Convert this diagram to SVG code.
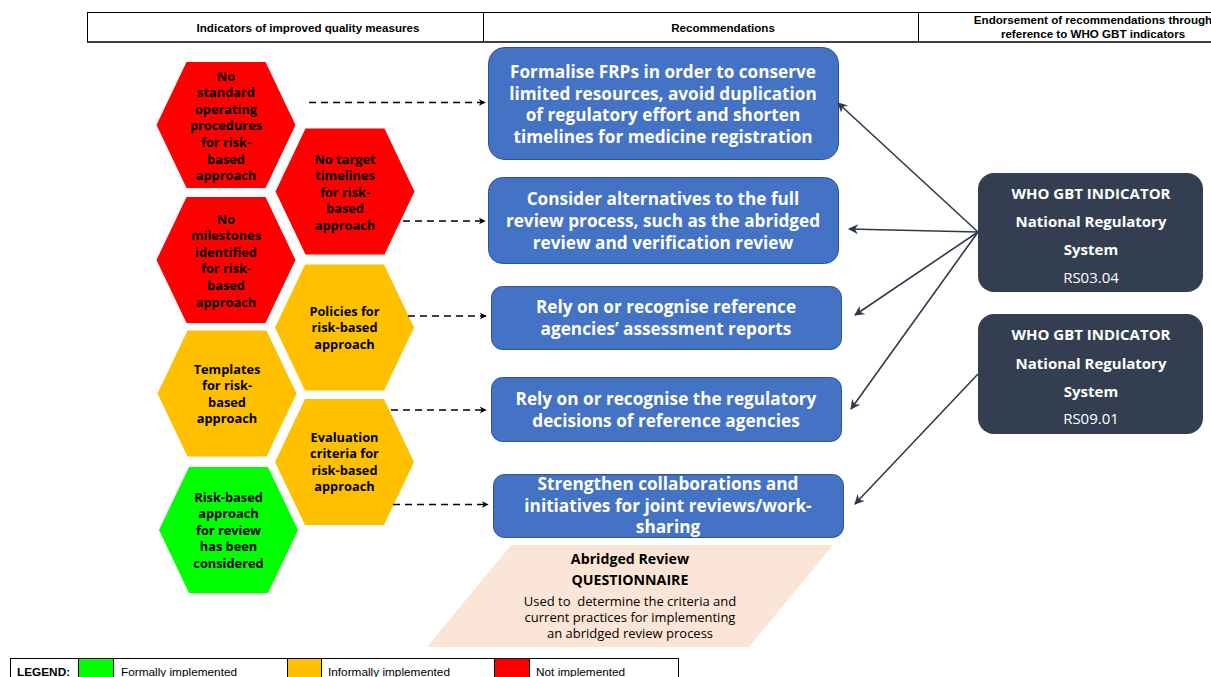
<svg xmlns="http://www.w3.org/2000/svg" xmlns:xlink="http://www.w3.org/1999/xlink" width="1211" height="677" viewBox="0 0 1211 677">
<style>
.hdr{font-family:"Liberation Sans",Arial,sans-serif;font-weight:bold;font-size:11.6px;fill:#000;text-anchor:middle}
.hx{font-family:"Open Sans","Noto Sans",sans-serif;font-weight:bold;font-size:12.8px;fill:#000;text-anchor:middle}
.red{fill:#FF0000}
.org{fill:#FFC000}
.grn{fill:#00FF00}
.blue{fill:#4472C4;stroke:#2F528F;stroke-width:1}
.bt{font-family:"Open Sans","Noto Sans",sans-serif;font-weight:bold;font-size:17.2px;fill:#fff;text-anchor:middle}
.dark{fill:#333F50}
.dt{font-family:"Open Sans","Noto Sans",sans-serif;font-size:15px;fill:#fff;text-anchor:middle}
.dt .b{font-weight:bold}
.pt{font-family:"Open Sans","Noto Sans",sans-serif;font-size:13px;fill:#000;text-anchor:middle}
.pb{font-family:"Open Sans","Noto Sans",sans-serif;font-size:14.2px;font-weight:bold;fill:#000;text-anchor:middle}
.dash{stroke:#000;stroke-width:1.6;stroke-dasharray:7 5;fill:none}
.sol{stroke:#2E3A4B;stroke-width:1.6;fill:none}
.lg{font-family:"Liberation Sans",Arial,sans-serif;font-size:11.8px;fill:#000}
</style>
<defs>
<polygon id="hex" points="-69.5,0 -39.5,-63 39.5,-63 69.5,0 39.5,63 -39.5,63"/>
<marker id="ab" viewBox="0 0 10 10" refX="9" refY="5" markerWidth="7" markerHeight="7" markerUnits="userSpaceOnUse" orient="auto">
<path d="M0,0 L10,5 L0,10 L3,5 Z" fill="#000"/>
</marker>
<marker id="ad" viewBox="0 0 10 10" refX="9" refY="5" markerWidth="10" markerHeight="10" markerUnits="userSpaceOnUse" orient="auto">
<path d="M0,0 L10,5 L0,10 L3,5 Z" fill="#2E3A4B"/>
</marker>
</defs>
<rect width="1211" height="677" fill="#fff"/>

<g id="header">
<line x1="87" y1="12.5" x2="1211" y2="12.5" stroke="#000" stroke-width="1"/>
<line x1="87" y1="42" x2="1211" y2="42" stroke="#000" stroke-width="1.5"/>
<line x1="87.5" y1="12" x2="87.5" y2="42" stroke="#000" stroke-width="1"/>
<line x1="483.5" y1="12" x2="483.5" y2="42" stroke="#000" stroke-width="1"/>
<line x1="918.5" y1="12" x2="918.5" y2="42" stroke="#000" stroke-width="1"/>
<text class="hdr" x="308" y="32">Indicators of improved quality measures</text>
<text class="hdr" x="723" y="32">Recommendations</text>
<text class="hdr" x="1093" y="24">Endorsement of recommendations through</text>
<text class="hdr" x="1093" y="38">reference to WHO GBT indicators</text>
</g>

<g id="hex1">
<use xlink:href="#hex" x="226" y="125" class="red"/>
<text class="hx" x="226" y="80.5"><tspan x="226">No</tspan><tspan x="226" dy="16.6">standard</tspan><tspan x="226" dy="16.6">operating</tspan><tspan x="226" dy="16.6">procedures</tspan><tspan x="226" dy="16.6">for risk-</tspan><tspan x="226" dy="16.6">based</tspan><tspan x="226" dy="16.6">approach</tspan></text>
</g>
<g id="hex2">
<use xlink:href="#hex" x="345" y="191.5" class="red"/>
<text class="hx" x="345" y="163.5"><tspan x="345">No target</tspan><tspan x="345" dy="16.6">timelines</tspan><tspan x="345" dy="16.6">for risk-</tspan><tspan x="345" dy="16.6">based</tspan><tspan x="345" dy="16.6">approach</tspan></text>
</g>
<g id="hex3">
<use xlink:href="#hex" x="226" y="260" class="red"/>
<text class="hx" x="226" y="223.5"><tspan x="226">No</tspan><tspan x="226" dy="16.6">milestones</tspan><tspan x="226" dy="16.6">identified</tspan><tspan x="226" dy="16.6">for risk-</tspan><tspan x="226" dy="16.6">based</tspan><tspan x="226" dy="16.6">approach</tspan></text>
</g>
<g id="hex4">
<use xlink:href="#hex" x="344.5" y="327.5" class="org"/>
<text class="hx" x="344.5" y="315.5"><tspan x="344.5">Policies for</tspan><tspan x="344.5" dy="16.6">risk-based</tspan><tspan x="344.5" dy="16.6">approach</tspan></text>
</g>
<g id="hex5">
<use xlink:href="#hex" x="227" y="393.5" class="org"/>
<text class="hx" x="227" y="373.5"><tspan x="227">Templates</tspan><tspan x="227" dy="16.6">for risk-</tspan><tspan x="227" dy="16.6">based</tspan><tspan x="227" dy="16.6">approach</tspan></text>
</g>
<g id="hex6">
<use xlink:href="#hex" x="344.5" y="462" class="org"/>
<text class="hx" x="344.5" y="441.5"><tspan x="344.5">Evaluation</tspan><tspan x="344.5" dy="16.6">criteria for</tspan><tspan x="344.5" dy="16.6">risk-based</tspan><tspan x="344.5" dy="16.6">approach</tspan></text>
</g>
<g id="hex7">
<use xlink:href="#hex" x="228.5" y="530" class="grn"/>
<text class="hx" x="228.5" y="501.5"><tspan x="228.5">Risk-based</tspan><tspan x="228.5" dy="16.6">approach</tspan><tspan x="228.5" dy="16.6">for review</tspan><tspan x="228.5" dy="16.6">has been</tspan><tspan x="228.5" dy="16.6">considered</tspan></text>
</g>

<g id="rec1">
<rect class="blue" x="488.5" y="47.5" width="350" height="112" rx="16"/>
<text class="bt" x="663" y="78"><tspan x="663">Formalise FRPs in order to conserve</tspan><tspan x="663" dy="21.7">limited resources, avoid duplication</tspan><tspan x="663" dy="21.7">of regulatory effort and shorten</tspan><tspan x="663" dy="21.7">timelines for medicine registration</tspan></text>
</g>
<g id="rec2">
<rect class="blue" x="488.5" y="177.5" width="350" height="86" rx="14"/>
<text class="bt" x="663" y="205"><tspan x="663">Consider alternatives to the full</tspan><tspan x="663" dy="22">review process, such as the abridged</tspan><tspan x="663" dy="22">review and verification review</tspan></text>
</g>
<g id="rec3">
<rect class="blue" x="491.5" y="286.5" width="350" height="63" rx="11"/>
<text class="bt" x="666" y="313"><tspan x="666">Rely on or recognise reference</tspan><tspan x="666" dy="22">agencies’ assessment reports</tspan></text>
</g>
<g id="rec4">
<rect class="blue" x="491.5" y="377.5" width="350" height="64" rx="11"/>
<text class="bt" x="666" y="405"><tspan x="666">Rely on or recognise the regulatory</tspan><tspan x="666" dy="22">decisions of reference agencies</tspan></text>
</g>
<g id="rec5">
<rect class="blue" x="493.5" y="474.5" width="350" height="63" rx="11"/>
<text class="bt" x="668" y="490"><tspan x="668">Strengthen collaborations and</tspan><tspan x="668" dy="21.7">initiatives for joint reviews/work-</tspan><tspan x="668" dy="21.7">sharing</tspan></text>
</g>

<g id="questionnaire">
<polygon points="511,545 833,545 749,647 427,647" fill="#FBE5D6"/>
<text class="pb" x="630" y="564">Abridged Review</text>
<text class="pb" x="630" y="585">QUESTIONNAIRE</text>
<text class="pt" x="630" y="605.5" xml:space="preserve">Used to  determine the criteria and</text>
<text class="pt" x="630" y="621.5">current practices for implementing</text>
<text class="pt" x="630" y="637.5">an abridged review process</text>
</g>

<g id="gbt1">
<rect class="dark" x="978" y="173" width="225" height="119" rx="16"/>
<text class="dt" x="1091" y="199"><tspan class="b" x="1091">WHO GBT INDICATOR</tspan><tspan class="b" x="1091" dy="28">National Regulatory</tspan><tspan class="b" x="1091" dy="28">System</tspan><tspan x="1091" dy="28">RS03.04</tspan></text>
</g>
<g id="gbt2">
<rect class="dark" x="978" y="314" width="225" height="120" rx="16"/>
<text class="dt" x="1091" y="340"><tspan class="b" x="1091">WHO GBT INDICATOR</tspan><tspan class="b" x="1091" dy="28.5">National Regulatory</tspan><tspan class="b" x="1091" dy="28">System</tspan><tspan x="1091" dy="27.5">RS09.01</tspan></text>
</g>

<g id="connectors">
<line class="dash" x1="309" y1="102.5" x2="485" y2="102.5" marker-end="url(#ab)"/>
<line class="dash" x1="403" y1="221" x2="485" y2="221" marker-end="url(#ab)"/>
<line class="dash" x1="408" y1="316" x2="486" y2="316" marker-end="url(#ab)"/>
<line class="dash" x1="391" y1="410" x2="486" y2="410" marker-end="url(#ab)"/>
<line class="dash" x1="393" y1="504.5" x2="488" y2="504.5" marker-end="url(#ab)"/>
<line class="sol" x1="978" y1="232" x2="838" y2="103" marker-end="url(#ad)"/>
<line class="sol" x1="978" y1="232" x2="849" y2="229" marker-end="url(#ad)"/>
<line class="sol" x1="978" y1="232" x2="855" y2="315" marker-end="url(#ad)"/>
<line class="sol" x1="978" y1="232" x2="851" y2="409" marker-end="url(#ad)"/>
<line class="sol" x1="978" y1="374" x2="855" y2="504" marker-end="url(#ad)"/>
</g>

<g id="legend">
<rect x="10.5" y="658.5" width="668" height="30" fill="none" stroke="#000" stroke-width="1"/>
<rect x="78.5" y="658.5" width="35" height="30" fill="#00FF00" stroke="#000" stroke-width="1"/>
<rect x="287.5" y="658.5" width="34" height="30" fill="#FFC000" stroke="#000" stroke-width="1"/>
<rect x="494.5" y="658.5" width="35" height="30" fill="#FF0000" stroke="#000" stroke-width="1"/>
<text class="lg" x="17" y="676" font-weight="bold">LEGEND:</text>
<text class="lg" x="121" y="676">Formally implemented</text>
<text class="lg" x="328" y="676">Informally implemented</text>
<text class="lg" x="536" y="676">Not implemented</text>
</g>
</svg>
